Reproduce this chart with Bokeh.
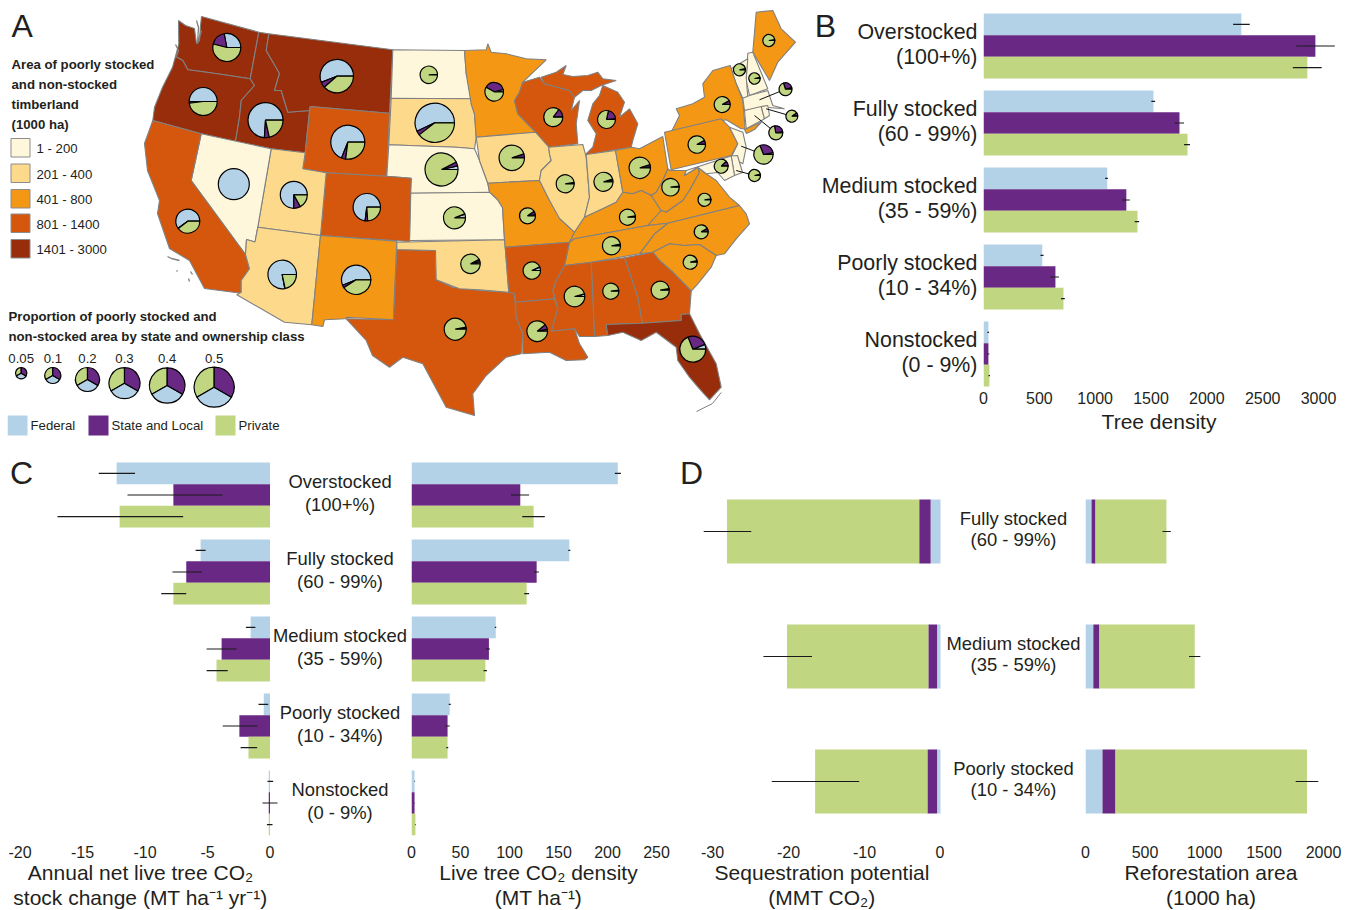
from bokeh.plotting import figure
from bokeh.layouts import row, column
from bokeh.models import Range1d, FixedTicker
from bokeh.core.properties import value
from bokeh.embed import file_html
from bokeh.resources import INLINE
import math

FONT = "Liberation Sans"
INK = "#231f20"
C_FED, C_SL, C_PRI = "#b3d1e7", "#692883", "#c0d681"
CLASS_COLORS = ["#fff7dc", "#fdd98c", "#f39714", "#d4570d", "#972d0b"]
CLASS_LABELS = ["1 - 200", "201 - 400", "401 - 800", "801 - 1400", "1401 - 3000"]

# --- panel B: tree density
CATS5 = ["Overstocked\n(100+%)", "Fully stocked\n(60 - 99%)", "Medium stocked\n(35 - 59%)",
         "Poorly stocked\n(10 - 34%)", "Nonstocked\n(0 - 9%)"]
CATS3 = ["Fully stocked\n(60 - 99%)", "Medium stocked\n(35 - 59%)", "Poorly stocked\n(10 - 34%)"]

B_FED = [2309, 1522, 1108, 526, 44]
B_SL = [2972, 1755, 1279, 644, 44]
B_PRI = [2900, 1827, 1379, 716, 53]
B_FED_ERR = [(2235, 2384), (1503, 1537), (1089, 1114), (510, 538), (35, 50)]
B_SL_ERR = [(2800, 3146), (1712, 1796), (1242, 1310), (600, 675), (35, 52)]
B_PRI_ERR = [(2770, 3028), (1796, 1849), (1354, 1394), (694, 728), (45, 58)]

# --- panel C left: annual net stock change
C1_FED = [-12.27, -5.55, -1.55, -0.5, -0.1]
C1_SL = [-7.73, -6.7, -3.87, -2.45, -0.1]
C1_PRI = [-12.03, -7.73, -4.28, -1.72, -0.1]
C1_FED_ERR = [(-13.7, -10.8), (-5.95, -5.15), (-1.93, -1.17), (-0.92, -0.14), (-0.2, 0.25)]
C1_SL_ERR = [(-11.4, -3.8), (-7.8, -5.45), (-5.07, -2.67), (-3.78, -1.0), (-0.6, 0.6)]
C1_PRI_ERR = [(-17.0, -6.95), (-8.7, -6.7), (-5.07, -3.38), (-2.35, -1.03), (-0.25, 0.2)]

# --- panel C right: live tree CO2 density
C2_FED = [210.5, 161, 86, 39, 3.1]
C2_SL = [111, 127.7, 79, 36.8, 3.1]
C2_PRI = [124.6, 117.5, 75.4, 36.8, 4]
C2_FED_ERR = [(207.5, 213.7), (160, 162), (85, 86.5), (38, 40), (3, 3.6)]
C2_SL_ERR = [(101.5, 120), (125, 130), (76, 80), (34.6, 39), (3, 3.6)]
C2_PRI_ERR = [(113, 136), (115, 120), (73.5, 77), (35.5, 37.5), (3.5, 4.2)]

# --- panel D left: sequestration potential (stack widths)
D1_FED = [-1.3, -0.45, -0.45]
D1_SL = [-1.5, -1.15, -1.27]
D1_PRI = [-25.3, -18.6, -14.78]
D1_ERR = [(-31.2, -24.9), (-23.3, -16.9), (-22.2, -10.7)]

# --- panel D right: reforestation area (stack widths)
D2_FED = [51, 66, 143]
D2_SL = [33, 51, 109]
D2_PRI = [596, 801, 1609]
D2_ERR = [(647, 717), (870, 965), (1766, 1956)]

# --- map: state outlines, in picture pixels
WA = [(179,20),(186,25),(195,28),(197,43),(200,40),(201,25),(202,16),(259.3,31.7),(250.7,78.3),(223,74),(200,70.7),(188.3,69.3),(183.3,60),(176,56),(179.3,43.3)]
OR = [(176,56),(183.3,60),(188.3,69.3),(200,70.7),(223,74),(250.7,78.3),(255,85),(241.7,100),(240,116.7),(236,141),(201.7,133.3),(153.3,120),(155,106.7),(163,86.7),(173,66.7)]
ID = [(259.3,31.7),(269.3,33.3),(266.7,50),(280,73),(275,90),(281.7,90),(288.3,111.7),(310,110),(305.7,152.3),(271.7,148.3),(236,141),(240,116.7),(241.7,100),(255,85),(250.7,78.3)]
MT = [(269.3,33.3),(393.3,49.3),(390,112.7),(310.7,106),(310,110),(288.3,111.7),(281.7,90),(275,90),(280,73),(266.7,50)]
WY = [(310.7,106),(390,112.7),(387.3,175.7),(326.7,172.3),(303.3,168.3),(305.7,152.3)]
ND = [(393.3,49.3),(465,50),(466.7,73.3),(471.7,90),(473.3,98.3),(391.7,97.7)]
SD = [(391.7,97.7),(473.3,98.3),(471.7,103.3),(475,113.3),(476.7,136.7),(475,148.3),(456.7,146.7),(389.3,144.3)]
NE = [(389.3,144.3),(456.7,146.7),(475,148.3),(480,160),(488.3,182.7),(490,191.7),(410.7,192.7),(411.7,177.7),(387.3,175.7)]
KS = [(410.7,192.7),(490,191.7),(498,199),(503,207),(505,239.3),(410,240)]
CO = [(326.7,172.3),(387.3,175.7),(411.7,177.7),(410,241),(321,235)]
UT = [(271.7,148.3),(305.7,152.3),(303.3,168.3),(326.7,172.3),(321,235),(258.3,226.7)]
NV = [(201.7,133.3),(271.7,148.3),(258.3,226.7),(255.5,241.5),(247,239),(246,254),(191.7,180)]
CA = [(153.3,120),(201.7,133.3),(191.7,180),(246,254),(250,268.3),(241.7,280),(241.7,292.7),(205,288),(190,260),(170,248),(158,213),(160,200),(148,170),(145,143)]
AZ = [(258.3,226.7),(321,235),(312.3,324.3),(285,321.7),(237.3,294.3),(241.7,291.7),(241.7,280),(250,268.3),(246,254),(247,239),(255.5,241.5)]
NM = [(321,235),(397.3,240.7),(394,319.3),(346.7,316.7),(346,318.3),(325,319.3),(323.3,326),(312.3,324.3)]
TX = [(397.3,249),(436,250),(436.7,279.3),(453.3,286.7),(480,290),(509.3,291.7),(515,293.3),(516.7,316.7),(523.3,333.3),(521.7,353.3),(506.7,356.7),(486.7,375),(473.3,393.3),(475,415),(446.7,406.7),(423.3,363.3),(403.3,356.7),(390,366.7),(373,355),(366.7,340),(346.7,318.3),(394,319.3)]
OK = [(397.3,241.7),(505,239.3),(505.7,246.7),(509.3,291.7),(480,289.3),(460,288.3),(436.7,279.3),(436,250),(397.3,249)]
MN = [(465,50),(486.7,49.3),(488.3,43.3),(491.7,51.7),(506.7,53.3),(526.7,58.3),(546.7,59.3),(523.3,81.7),(520,91.7),(515,100),(518.3,113.3),(536,131.7),(476.7,136.7),(475,113.3),(471.7,103.3),(466.7,73.3)]
WI = [(523.3,81.7),(540,76.7),(545,83.3),(570,90),(575,96.7),(571.7,110),(580,100),(576.7,123.3),(578.3,143.3),(549.3,146.7),(543.3,140),(536,131.7),(518.3,113.3),(515,100),(520,91.7)]
MIU = [(541.7,76.7),(556.7,71.7),(566.7,65),(563.3,74),(573.3,76),(588.3,75),(598.3,71.7),(603.3,78.3),(616.7,80),(601.7,85),(591.7,90),(583.3,90),(575,96.7),(570,90),(545,83.3)]
MIL = [(603.3,85),(618.3,91.7),(625,101.7),(620,116.7),(630,108.3),(638.3,123.3),(633.3,140),(631.7,146.7),(616.7,149),(585,155),(593.3,146.7),(596.7,133.3),(588.3,120),(593.3,103.3),(600,95)]
IA = [(476.7,136.7),(536,131.7),(543.3,140),(549.3,146.7),(550,153.3),(551.7,160),(541.7,170),(540,180),(488.3,182.7),(480,160)]
MO = [(488.3,182.7),(540,180),(550,200),(558.3,210),(560,218),(575,231.7),(570,241.7),(563.3,242.3),(505.7,246.7),(505,239.3),(503,207),(498,199),(490,191.7)]
IL = [(549.3,146.7),(583.3,144),(586.7,156.7),(590,196.7),(585,216.7),(575,231.7),(560,218),(550,200),(540,180),(541.7,170),(551.7,160),(550,153.3)]
IN = [(586.7,154),(616,150),(623.3,191.7),(616.7,201.7),(603.3,208.3),(585,216.7),(590,196.7)]
OH = [(616,150),(631.7,146.7),(640,148.3),(663.3,136),(668.3,168.3),(663.3,180),(656.7,191.7),(651.7,195),(641.7,190),(633.3,193.3),(623.3,191.7)]
KY = [(623.3,191.7),(633.3,193.3),(641.7,190),(651.7,195),(661.7,210),(648.3,225),(575,238.3),(570,241.7),(575,231.7),(585,216.7),(603.3,208.3),(616.7,201.7)]
WV = [(668.3,168.3),(670.7,170),(686.7,170),(685,175),(698.3,166.7),(700,171.7),(690,190),(683.3,200),(666.7,211.7),(661.7,210),(651.7,195),(656.7,191.7),(663.3,180)]
VA = [(698.3,166.7),(706.7,173.3),(716.7,180),(730,196.7),(740,205),(668.3,222.7),(648.3,225),(661.7,210),(666.7,211.7),(683.3,200),(690,190),(700,171.7)]
NC = [(740,205),(668.3,222.7),(655,233.3),(640,253.3),(653.3,251.7),(670,243.3),(685,245),(700,244),(716.7,255),(725,253.3),(736.7,238.3),(750,223.3),(746.7,213.3)]
TN = [(575,238.3),(648.3,225),(668.3,222.7),(655,233.3),(640,253.3),(591.7,261.7),(565,265),(570,241.7)]
SC = [(653.3,251.7),(670,243.3),(685,245),(700,244),(716.7,255),(711.7,266.7),(698.3,283.3),(691.7,290.7),(673.3,271.7),(660,260)]
GA = [(625,257.3),(653.3,251.7),(660,260),(673.3,271.7),(691.7,290.7),(690,313.3),(681.7,314),(681.7,320),(642.7,322.7),(638.3,296.7)]
AL = [(591.7,261.7),(625,257.3),(638.3,296.7),(642.7,322.7),(606.7,324),(608.3,335),(595,336)]
MS = [(565,265),(591.7,261.7),(595,336),(580,336),(575,328.3),(551.7,330.7),(558.3,308.3),(553.3,290),(556.7,280)]
AR = [(505.7,246.7),(563.3,242.3),(570,241.7),(565,265),(556.7,280),(553.3,290),(555,298.3),(516,301.7),(515,293.3),(509.3,291.7)]
LA = [(516,301.7),(555,298.3),(558.3,308.3),(551.7,330.7),(575,328.3),(580,343.3),(588.3,356.7),(585,359.3),(566.7,360),(550,351.7),(523.3,353.3),(523.3,333.3),(516.7,316.7)]
FL = [(606.7,324),(642.7,322.7),(681.7,320),(681.7,314),(690,313.3),(700,333.3),(716.7,363.3),(721.7,386.7),(710,399.3),(700,388.3),(690,376.7),(678.3,360),(676.7,346.7),(656.7,331.7),(641.7,340),(623.3,331.7),(608.3,335)]
ME = [(756.7,11.7),(773.3,10),(781.7,28.3),(796,41.7),(778.3,61.7),(770,80),(753.3,51.7)]
NH = [(748.3,52.7),(753.3,51.7),(768.3,88.3),(750,95),(746.7,80)]
VT = [(731.7,68.3),(748.3,58.3),(746.7,76.7),(748.3,96.7),(743.3,97.7),(736.7,83.3)]
NY = [(713.3,70),(730.7,65),(736.7,83.3),(743.3,100),(745,120),(745.5,128.3),(741.7,128.3),(726.7,119.3),(671.7,131.7),(680,115),(676.7,108.3),(693.3,103.3),(705,96.7),(703.3,83.3)]
LI = [(745,129),(762,121.5),(755,129),(747,133)]
PA = [(665,131.7),(721.7,118.3),(730,126.7),(738.3,143.3),(731.7,155),(671.7,169.3)]
MA = [(743.3,97.7),(750,95),(768.3,90),(773.3,105),(785,108.3),(765,106.7),(745,110)]
CT = [(745,110),(761.7,106),(765,118.3),(746.7,128.3)]
RI = [(761.7,106),(768.3,105),(770,115),(765,118.3)]
NJ = [(730,126.7),(743.3,131.7),(746.7,146.7),(743.3,163.3),(731.7,156.7),(738.3,143.3)]
DE = [(731.7,155.5),(738,155),(743,172),(735,175)]
MD = [(686.7,170),(731.7,155.5),(735,175),(725,180),(718,172),(706.7,173.3),(698.3,166.7),(685,175)]

OUTLINES = [WA, OR, ID, MT, WY, ND, SD, NE, KS, CO, UT, NV, CA, AZ, NM, TX, OK, MN, WI, MIU, MIL, IA, MO, IL, IN,
            OH, KY, WV, VA, NC, TN, SC, GA, AL, MS, AR, LA, FL, ME, NH, VT, NY, LI, PA, MA, CT, RI, NJ, DE, MD]
OUTLINE_CLASS = [4, 4, 4, 4, 3, 0, 1, 0, 0, 3, 1, 0, 3, 1, 2, 3, 1, 2, 3, 3, 3, 1, 2, 1, 1,
                 2, 2, 2, 2, 2, 2, 2, 3, 3, 3, 3, 3, 4, 2, 0, 0, 2, 2, 2, 0, 0, 0, 0, 0, 0]

# --- map pies: state, federal %, state and local %
PIE_NAMES = ["WA","OR","ID","MT","WY","NV","UT","CO","ND","SD","NE","KS","CA","AZ","NM","TX","OK","MN","WI","MI","IA","IL","IN","OH",
             "PA","NY","ME","VT","NH","MA","CT","RI","NJ","MD","DE","WV","VA","KY","TN","NC","SC","GA","AL","MS","AR","LA","FL","MO"]
PIE_FED = [28,50,74,56,69,100,75,73,0.5,57,3.5,5.5,60,78,56,1,3.5,4,1,1.5,1,0.5,3,1.5,
           1,1,0.5,0.5,0.5,4,1.5,3,3,1.5,2,0.5,1,1,1,1.5,1.5,1.5,0.5,3.5,6,3,6,2.5]
PIE_SL = [18,2,4.5,5.5,4,0,8,3,0.5,3.5,4,0.5,0.5,0.3,3,2,4,38,14,20,4,2,1.5,3.5,
          7,7,2,3,3,26,8,25,28,11,1.5,1.5,1.5,1.5,2,7,2,1.5,1.5,0.5,1,8,25,7]
PIE_X = [227.3,203.7,266,337.3,348.3,234.3,294.3,367.3,429.3,435.3,442,455,188.3,282.7,356.7,455.7,471,494.7,553.7,607,512.3,565.7,604,640.3,
         697.3,722.7,769.3,740,755,786,792.3,776.3,764,721.7,755,671,705,628,612,701.7,690.7,660.7,611.3,575,532.3,537.7,693.3,528]
PIE_Y = [47,101,119.7,75.7,141.7,183.7,194.3,206.7,74.3,122.3,169,217.3,220.7,274,279.3,328.7,263.3,91.3,116.7,119,157.3,183.3,181.3,167.3,
         144,104,40,69.3,78,88.7,115.7,132.3,154,165.7,175,186.7,199.3,216.7,245.3,231.3,261.7,289.7,290.7,296,270,330.7,348.7,215.3]
PIE_R = [14,14,17.5,16.7,17,15.5,13.5,13.7,8.7,19.7,16.5,11,12,14.3,14.7,11,9.7,9.3,9.5,9,12.7,9,9.5,10.7,
         8.7,8,6,6,5.7,6.5,6,7,9.7,7,6,8.7,6.5,8,9,7,7,9,8,10.3,8.7,10.3,13,8]
LEADER_PIES = ["MA", "CT", "RI", "NJ", "DE"]
LEADER_END_X = [760, 766.7, 755, 741.7, 736.7]
LEADER_END_Y = [99.3, 108.3, 115, 145.7, 170]

# --- proportion legend
SIZE_LABELS = ["0.05", "0.1", "0.2", "0.3", "0.4", "0.5"]
SIZE_X = [21.7, 53.3, 88, 125, 167.7, 214.7]
SIZE_Y = [372.7, 375, 379, 382.7, 385, 386.7]
SIZE_R = [5.7, 8, 12, 15.5, 17.7, 20]
OWNERS = ["Federal", "State and Local", "Private"]

# --- axis titles
TITLE_B = "Tree density"
TITLE_C1 = "Annual net live tree CO₂\nstock change (MT ha⁻¹ yr⁻¹)"
TITLE_C2 = "Live tree CO₂ density\n(MT ha⁻¹)"
TITLE_D1 = "Sequestration potential\n(MMT CO₂)"
TITLE_D2 = "Reforestation area\n(1000 ha)"

TOP_H = 445
BOTTOM_H = 456
FRAME_B = 835
PAGE_B = 8 + TOP_H + BOTTOM_H


def bare_panel(width, height, left, right, bottom, xr, yr):
    p = figure(width=width, height=height, x_range=Range1d(*xr), y_range=Range1d(*yr),
               toolbar_location=None, output_backend="svg", min_border_left=left, min_border_right=right,
               min_border_top=0, min_border_bottom=bottom, y_axis_type=None, frame_align=False)
    p.grid.visible = False
    p.outline_line_color = None
    return p


def style_axis(p, ticks, tick_standoff):
    ax = p.xaxis[0]
    ax.ticker = FixedTicker(ticks=ticks)
    ax.major_label_overrides = {t: str(t) for t in ticks}
    ax.axis_line_color = None
    ax.major_tick_line_color = None
    ax.minor_tick_line_color = None
    ax.major_tick_out = 0
    ax.major_tick_in = 0
    ax.minor_tick_out = 0
    ax.minor_tick_in = 0
    ax.major_label_text_font = FONT
    ax.major_label_text_font_size = "16px"
    ax.major_label_text_color = INK
    ax.major_label_standoff = tick_standoff


def whiskers(p, lows_highs, ys):
    p.segment([a for a, _ in lows_highs], ys, [b for _, b in lows_highs], ys, line_color="#1a1a1a", line_width=1.2)


def grouped(p, fed, sl, pri, errs, bar_h):
    n = len(fed)
    for k, (vals, col, err) in enumerate(zip((fed, sl, pri), (C_FED, C_SL, C_PRI), errs)):
        ys = [i + (k - 1) * bar_h for i in range(n)]
        p.hbar(y=ys, right=vals, left=0, height=bar_h, fill_color=col, line_color=None)
        whiskers(p, err, ys)


def stacked(p, fed, sl, pri, err, bar_h):
    n = len(fed)
    a = [0] * n
    b = [f for f in fed]
    p.hbar(y=list(range(n)), left=a, right=b, height=bar_h, fill_color=C_FED, line_color=None)
    c = [x + y for x, y in zip(b, sl)]
    p.hbar(y=list(range(n)), left=b, right=c, height=bar_h, fill_color=C_SL, line_color=None)
    d = [x + y for x, y in zip(c, pri)]
    p.hbar(y=list(range(n)), left=c, right=d, height=bar_h, fill_color=C_PRI, line_color=None)
    whiskers(p, err, list(range(n)))


# --- map figure
m = figure(width=807, height=TOP_H, x_range=Range1d(8, 815), y_range=Range1d(8 + TOP_H, 8),
           toolbar_location=None, output_backend="svg", x_axis_type=None, y_axis_type=None, min_border=0, frame_align=False)
m.grid.visible = False
m.outline_line_color = None
m.patches([[q[0] for q in o] for o in OUTLINES], [[q[1] for q in o] for o in OUTLINES],
          fill_color=[CLASS_COLORS[c] for c in OUTLINE_CLASS], line_color="#808080", line_width=1.1)
m.multi_line([[168, 172, 180], [177, 178], [191, 193], [189, 190], [197, 199, 198, 202], [176, 179, 177]],
             [[256, 258, 260], [270, 271], [271, 274], [278, 281], [20, 27, 43, 30], [44, 50, 56]],
             line_color="#808080", line_width=1.3)
m.line([721.7, 713, 697], [392, 403, 411], line_color="#808080", line_width=1)

idx = [PIE_NAMES.index(n) for n in LEADER_PIES]
m.segment([PIE_X[i] for i in idx], [PIE_Y[i] for i in idx], LEADER_END_X, LEADER_END_Y, line_color="#111111", line_width=1)

TAU = 2 * math.pi
for col, lo, hi in ((C_FED, [0] * len(PIE_FED), PIE_FED),
                    (C_SL, PIE_FED, [a + b for a, b in zip(PIE_FED, PIE_SL)]),
                    (C_PRI, [a + b for a, b in zip(PIE_FED, PIE_SL)], [100] * len(PIE_FED))):
    keep = [i for i in range(len(lo)) if 0 < hi[i] - lo[i] < 100]
    m.wedge(x=[PIE_X[i] for i in keep], y=[PIE_Y[i] for i in keep], radius=[PIE_R[i] for i in keep], radius_units="screen",
            start_angle=[lo[i] / 100 * TAU for i in keep], end_angle=[hi[i] / 100 * TAU for i in keep],
            direction="anticlock", fill_color=col, line_color="#000000", line_width=1.2)
    full = [i for i in range(len(lo)) if hi[i] - lo[i] >= 100]
    if full:
        m.circle(x=[PIE_X[i] for i in full], y=[PIE_Y[i] for i in full], radius=[PIE_R[i] for i in full], radius_units="screen",
                 fill_color=col, line_color="#000000", line_width=1.2)

# three equal shares, starting from the top, counter-clockwise
for k, col in enumerate((C_PRI, C_FED, C_SL)):
    a = math.pi / 2 + k * TAU / 3
    m.wedge(x=SIZE_X, y=SIZE_Y, radius=SIZE_R, radius_units="screen", start_angle=a, end_angle=a + TAU / 3,
            direction="anticlock", fill_color=col, line_color="#000000", line_width=1.2)


def mtext(x, y, t, size="13.2px", style="normal", align="left", color=INK):
    m.text(x=x, y=y, text=t, text_font=value(FONT), text_font_size=size, text_font_style=style,
           text_baseline="middle", text_align=align, text_color=color)


mtext([12], [25], ["A"], size="32px", color=INK)
mtext([12] * 4, [64, 84, 104, 124],
      ["Area of poorly stocked", "and non-stocked", "timberland", "(1000 ha)"], style="bold")
swatch_y = [138, 163.5, 189, 213.5, 239]
m.quad(left=[11.5] * 5, right=[30.5] * 5, top=swatch_y, bottom=[v + 18.5 for v in swatch_y],
       fill_color=CLASS_COLORS, line_color="#8c8c8c", line_width=1)
mtext([37] * 5, [v + 10 for v in swatch_y], CLASS_LABELS)
mtext([9, 9], [316, 336], ["Proportion of poorly stocked and", "non-stocked area by state and ownership class"], style="bold")
mtext(SIZE_X, [358] * 6, SIZE_LABELS, align="center")
m.quad(left=[8, 89, 216], right=[28, 109, 236], top=[415] * 3, bottom=[435] * 3,
       fill_color=[C_FED, C_SL, C_PRI], line_color=None)
mtext([31, 112, 239], [425] * 3, OWNERS)

# --- panel B
PB = 0.11167
B_TICKS = [0, 500, 1000, 1500, 2000, 2500, 3000]
b = bare_panel(532, TOP_H, 169, 11, TOP_H - 380, (0, (1336 - 984) / PB), ((388 - 45.5) / 77, (8 - 45.5) / 77))
grouped(b, B_FED, B_SL, B_PRI, (B_FED_ERR, B_SL_ERR, B_PRI_ERR), 21.7 / 77)
style_axis(b, B_TICKS, 3)

# --- panel C
c_y = ((FRAME_B - 494.5) / 77, (453 - 494.5) / 77)
bottom_border = PAGE_B - FRAME_B
c1 = bare_panel(392, BOTTOM_H, 0, 119, bottom_border, ((8 - 270.5) / 12.5, (281 - 270.5) / 12.5), c_y)
grouped(c1, C1_FED, C1_SL, C1_PRI, (C1_FED_ERR, C1_SL_ERR, C1_PRI_ERR), 21.7 / 77)
style_axis(c1, [-20, -15, -10, -5, 0], 10)

c2 = bare_panel(272, BOTTOM_H, 12, 6, bottom_border, (0, (666 - 412) / 0.98), c_y)
grouped(c2, C2_FED, C2_SL, C2_PRI, (C2_FED_ERR, C2_SL_ERR, C2_PRI_ERR), 21.7 / 77)
style_axis(c2, [0, 50, 100, 150, 200, 250], 10)

# --- panel D
d_y = ((FRAME_B - 531) / 125, (453 - 531) / 125)
d1 = bare_panel(273, BOTTOM_H, 32, 3, bottom_border, ((704 - 941) / 7.6, (942 - 941) / 7.6), d_y)
stacked(d1, D1_FED, D1_SL, D1_PRI, D1_ERR, 64 / 125)
style_axis(d1, [-30, -20, -10, 0], 10)

d2 = bare_panel(402, BOTTOM_H, 141, 10, bottom_border, (0, (1337 - 1086) / 0.119), d_y)
stacked(d2, D2_FED, D2_SL, D2_PRI, D2_ERR, 64 / 125)
style_axis(d2, [0, 500, 1000, 1500, 2000], 10)

# --- transparent sheet over the whole page: panel letters, category labels, axis titles
sheet_h = TOP_H + BOTTOM_H
sheet = figure(width=1339, height=sheet_h, x_range=Range1d(8, 1347), y_range=Range1d(PAGE_B, 8),
               toolbar_location=None, output_backend="svg", x_axis_type=None, y_axis_type=None, min_border=0,
               frame_align=False, margin=(-sheet_h, 0, 0, 0))
sheet.grid.visible = False
sheet.outline_line_color = None
sheet.background_fill_color = None
sheet.border_fill_color = None


def stext(x, y, t, size, align, lh=1.15):
    sheet.text(x=x, y=y, text=t, text_font=value(FONT), text_font_size=size, text_baseline="middle",
               text_align=align, text_color=INK, text_line_height=lh)


stext([978] * 5, [44 + 77 * i for i in range(5)], CATS5, "21.4px", "right", lh=1.05)
stext([340.5] * 5, [492.5 + 77 * i for i in range(5)], CATS5, "18.4px", "center", lh=1.06)
stext([1014] * 3, [528.5 + 125 * i for i in range(3)], CATS3, "18.4px", "center", lh=1.0)
stext([826, 22, 692], [25, 472, 472], ["B", "C", "D"], "32px", "center")
stext([1159.5], [420.5], [TITLE_B], "21px", "center")
stext([141, 539, 822.5, 1211.5], [884.5] * 4, [TITLE_C1, TITLE_C2, TITLE_D1, TITLE_D2], "21px", "center", lh=1.07)

page = column(row(m, b), row(c1, c2, d1, d2), sheet, margin=(8, 0, 0, 7))
open("out.html", "w").write(file_html(page, INLINE))
